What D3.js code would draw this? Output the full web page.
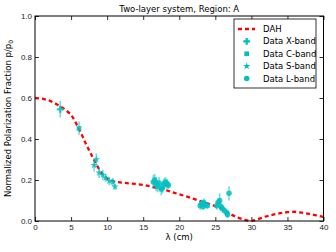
<!DOCTYPE html>
<html>
<head>
<meta charset="utf-8">
<script src="https://cdn.jsdelivr.net/npm/d3@7"></script>
<style>
  body { margin: 0; background: #fff; }
  svg { font-family: "DejaVu Sans", sans-serif; }
</style>
</head>
<body>
<svg width="336" height="252"></svg>
<script>
// DAH model curve (lambda in cm, p/p0)
const dahLambda = [0, 1, 2, 3, 4, 5, 5.5, 6, 6.5, 7, 7.5, 8, 8.5, 9, 9.5, 10, 10.5, 11, 12, 13, 14, 15, 16, 17, 18, 19, 20, 21, 22, 23, 24, 25, 26, 27, 28, 29, 29.8, 30.5, 31, 32, 33, 34, 35, 36, 37, 38, 39, 40];
const dahValue  = [0.60, 0.597, 0.587, 0.57, 0.548, 0.52, 0.49, 0.455, 0.42, 0.38, 0.345, 0.31, 0.277, 0.245, 0.222, 0.207, 0.197, 0.192, 0.187, 0.184, 0.181, 0.176, 0.169, 0.16, 0.152, 0.141, 0.13, 0.12, 0.108, 0.096, 0.085, 0.072, 0.057, 0.035, 0.018, 0.006, 0.0, 0.004, 0.01, 0.022, 0.031, 0.038, 0.043, 0.045, 0.041, 0.035, 0.028, 0.02];

// measurements: wavelength, value, error
const xBandLambda = [3.5];
const xBandValue  = [0.545];
const xBandErr    = [0.04];

const cBandLambda = [6.1];
const cBandValue  = [0.452];
const cBandErr    = [0.033];

const sBandLambda = [8.2, 8.5, 8.9, 9.4, 9.8, 10.3, 10.8, 11.1];
const sBandValue  = [0.272, 0.30, 0.235, 0.225, 0.21, 0.195, 0.19, 0.167];
const sBandErr    = [0.03, 0.03, 0.025, 0.025, 0.02, 0.02, 0.02, 0.015];

const lBandLambda = [16.4, 16.6, 16.8, 17.0, 17.2, 17.5, 17.7, 17.9, 18.1, 18.3, 18.5,
                     22.9, 23.1, 23.3, 23.4, 23.6, 23.9,
                     25.2, 25.4, 25.6, 25.8, 26.0, 26.3, 26.6, 26.7, 26.9];
const lBandValue  = [0.19, 0.20, 0.18, 0.17, 0.185, 0.155, 0.165, 0.18, 0.19, 0.18, 0.175,
                     0.075, 0.085, 0.07, 0.09, 0.08, 0.075,
                     0.075, 0.09, 0.10, 0.07, 0.06, 0.05, 0.04, 0.03, 0.135];
const lBandErr    = [0.035, 0.03, 0.035, 0.03, 0.03, 0.03, 0.03, 0.03, 0.025, 0.025, 0.02,
                     0.02, 0.02, 0.015, 0.02, 0.015, 0.015,
                     0.02, 0.02, 0.035, 0.02, 0.02, 0.015, 0.015, 0.015, 0.035];

const xTicks = [0, 5, 10, 15, 20, 25, 30, 35, 40];
const yTicks = [0.0, 0.2, 0.4, 0.6, 0.8, 1.0];

const margin = {top: 16, right: 12.5, bottom: 31, left: 35},
      width = 336 - margin.left - margin.right,
      height = 252 - margin.top - margin.bottom;

const svg = d3.select("svg");
const g = svg.append("g")
  .attr("transform", "translate(" + margin.left + "," + margin.top + ")");

const x = d3.scaleLinear().domain([0, 40]).range([0, width]);
const y = d3.scaleLinear().domain([0, 1]).range([height, 0]);

// axes with inward ticks on all four sides
function styleAxis(sel) {
  sel.select(".domain").remove();
  sel.selectAll(".tick line").attr("stroke", "#000").attr("stroke-width", 0.8);
  sel.selectAll(".tick text").attr("fill", "#222").style("font-size", "8px");
}
g.append("g").attr("transform", "translate(0," + height + ")")
  .call(d3.axisBottom(x).tickValues(xTicks).tickSizeInner(-4).tickPadding(3).tickFormat(d3.format("d")))
  .call(styleAxis);
g.append("g")
  .call(d3.axisLeft(y).tickValues(yTicks).tickSizeInner(-4).tickPadding(3).tickFormat(d3.format(".1f")))
  .call(styleAxis);
g.append("g")
  .call(d3.axisTop(x).tickValues(xTicks).tickSizeInner(-4).tickFormat(""))
  .call(styleAxis);
g.append("g").attr("transform", "translate(" + width + ",0)")
  .call(d3.axisRight(y).tickValues(yTicks).tickSizeInner(-4).tickFormat(""))
  .call(styleAxis);

// DAH curve
const dah = dahLambda.map((l, i) => ({l: l, p: dahValue[i]}));
const line = d3.line().x(d => x(d.l)).y(d => y(d.p));
g.append("path")
  .datum(dah)
  .attr("fill", "none")
  .attr("stroke", "#ff0000")
  .attr("stroke-width", 2.3)
  .attr("stroke-dasharray", "4,3")
  .attr("d", line);

const cyan = "#00bfbf";
const bands = [
  {name: "Data X-band", sym: d3.symbolCross, size: 26, l: xBandLambda, p: xBandValue, e: xBandErr},
  {name: "Data C-band", sym: d3.symbolSquare, size: 22, l: cBandLambda, p: cBandValue, e: cBandErr},
  {name: "Data S-band", sym: d3.symbolStar, size: 17, l: sBandLambda, p: sBandValue, e: sBandErr},
  {name: "Data L-band", sym: d3.symbolCircle, size: 24, l: lBandLambda, p: lBandValue, e: lBandErr}
];

bands.forEach(function(b) {
  const pts = b.l.map((l, i) => ({l: l, p: b.p[i], e: b.e[i]}));
  g.selectAll(null)
    .data(pts)
    .enter()
    .append("line")
      .attr("x1", d => x(d.l)).attr("x2", d => x(d.l))
      .attr("y1", d => y(d.p - d.e)).attr("y2", d => y(d.p + d.e))
      .attr("stroke", cyan)
      .attr("stroke-opacity", 0.55)
      .attr("stroke-width", 1.6);
  g.selectAll(null)
    .data(pts)
    .enter()
    .append("path")
      .attr("transform", d => "translate(" + x(d.l) + "," + y(d.p) + ")")
      .attr("d", d3.symbol().type(b.sym).size(b.size))
      .attr("fill", cyan)
      .attr("fill-opacity", 0.85);
});

// frame
g.append("rect")
  .attr("width", width).attr("height", height)
  .attr("fill", "none").attr("stroke", "#000").attr("stroke-width", 1);

// legend
const legend = svg.append("g").attr("transform", "translate(234,19)");
legend.append("rect")
  .attr("width", 82).attr("height", 69)
  .attr("fill", "#fff").attr("stroke", "#000").attr("stroke-width", 0.8);
const rowY = d => 10 + d * 12.4;
legend.append("line")
  .attr("x1", 4).attr("x2", 21).attr("y1", rowY(0)).attr("y2", rowY(0))
  .attr("stroke", "#ff0000").attr("stroke-width", 2.3).attr("stroke-dasharray", "4,3");
legend.append("text").attr("x", 29).attr("y", rowY(0)).attr("dy", "0.35em")
  .style("font-size", "8.5px").text("DAH");
bands.forEach(function(b, i) {
  legend.append("path")
    .attr("transform", "translate(12.7," + rowY(i + 1) + ")")
    .attr("d", d3.symbol().type(b.sym).size(b.size))
    .attr("fill", cyan);
  legend.append("text").attr("x", 29).attr("y", rowY(i + 1)).attr("dy", "0.35em")
    .style("font-size", "8.5px").text(b.name);
});

// title and labels
svg.append("text")
  .attr("x", margin.left + width / 2).attr("y", 12)
  .attr("text-anchor", "middle").style("font-size", "8.5px")
  .text("Two-layer system, Region: A");
svg.append("text")
  .attr("x", margin.left + width / 2).attr("y", 240)
  .attr("text-anchor", "middle").style("font-size", "8.5px")
  .text("λ (cm)");
const ylab = svg.append("text")
  .attr("transform", "translate(11," + (margin.top + height / 2) + ") rotate(-90)")
  .attr("text-anchor", "middle").style("font-size", "8.5px");
ylab.append("tspan").text("Normalized Polarization Fraction p/p");
ylab.append("tspan").attr("dy", "2").style("font-size", "6px").text("0");
</script>
</body>
</html>
